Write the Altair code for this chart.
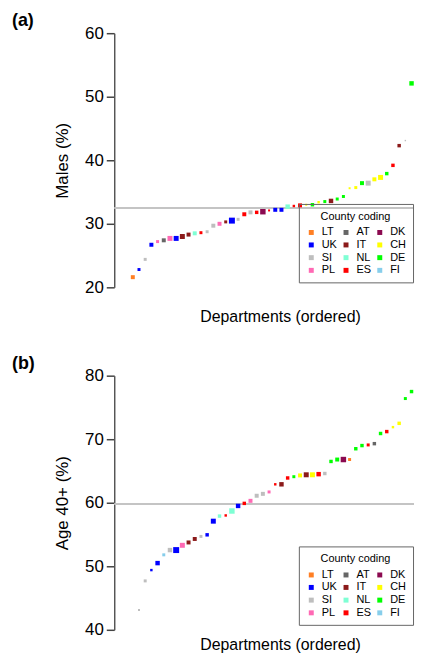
import altair as alt
import pandas as pd

F = "Liberation Sans"

# legend order (filled column by column: LT UK SI PL | AT IT NL ES | DK CH DE FI)
countries = ["LT", "UK", "SI", "PL", "AT", "IT", "NL", "ES", "DK", "CH", "DE", "FI"]
colors = ["#FF7F24", "#0000FF", "#BEBEBE", "#FF69B4", "#666666", "#8B1A1A",
          "#7FFFD4", "#FF0000", "#8B0A50", "#FFFF00", "#00FF00", "#87CEEB"]

# Panel (a): share of males per department (ordered)
males_rank = list(range(1, 47))
males_pct = [21.6, 22.8, 24.4, 26.7, 27.2, 27.4, 27.7, 27.7, 28.0, 28.3,
             28.5, 28.6, 28.75, 29.7, 30.0, 30.3, 30.5, 30.7, 31.5, 31.8,
             31.8, 31.9, 32.1, 32.2, 32.2, 32.7, 32.8, 32.9, 33.0, 33.0,
             33.4, 33.5, 33.6, 33.9, 34.3, 35.6, 35.7, 36.4, 36.4, 37.0,
             37.3, 37.9, 39.2, 42.3, 43.1, 52.1]
males_country = ["LT", "UK", "SI", "UK", "PL", "AT", "PL", "UK", "IT", "IT",
                 "NL", "ES", "SI", "SI", "PL", "IT", "UK", "SI", "ES", "SI",
                 "ES", "DK", "ES", "UK", "UK", "NL", "ES", "ES", "CH", "DE",
                 "CH", "DE", "IT", "DE", "DE", "CH", "CH", "DE", "SI", "CH",
                 "CH", "DE", "ES", "IT", "SI", "DE"]
males_dept = [16, 9, 9, 16, 9, 16, 25, 25, 25, 16,
              16, 9, 9, 16, 16, 9, 36, 9, 16, 16,
              12, 30, 4, 16, 16, 20, 6, 16, 4, 12,
              6, 9, 20, 9, 9, 4, 9, 16, 25, 16,
              25, 12, 12, 12, 2, 20]
males_ref = 32.5

# Panel (b): share aged 40+ per department (ordered)
age_rank = list(range(2, 47))
age_pct = [43.1, 47.7, 49.4, 50.5, 51.8, 52.55, 52.55, 53.3, 53.75, 54.3,
           54.7, 54.95, 57.1, 57.9, 58.0, 58.7, 59.5, 59.9, 60.3, 61.1,
           61.4, 61.7, 62.9, 62.9, 63.9, 64.1, 64.3, 64.4, 64.4, 64.5,
           64.6, 66.5, 66.8, 66.8, 66.8, 68.5, 69.0, 69.1, 69.3, 70.9,
           71.2, 71.9, 72.5, 76.4, 77.5]
age_country = ["SI", "SI", "UK", "UK", "FI", "SI", "UK", "PL", "IT", "IT",
               "SI", "UK", "UK", "NL", "ES", "NL", "UK", "ES", "PL", "SI",
               "SI", "PL", "ES", "IT", "ES", "DE", "CH", "IT", "CH", "ES",
               "SI", "DE", "DE", "DK", "LT", "DE", "DE", "ES", "AT", "DE",
               "ES", "CH", "CH", "DE", "DE"]
age_dept = [4, 9, 6, 20, 9, 20, 36, 25, 16, 16,
            9, 12, 25, 12, 6, 30, 20, 12, 16, 16,
            16, 9, 6, 20, 12, 9, 16, 25, 25, 20,
            12, 12, 16, 30, 9, 12, 12, 9, 12, 12,
            12, 6, 12, 9, 12]
age_ref = 59.8


def make_panel(rank, pct, country, dept, ytitle, ydom, yticks, ref, tag, xpad):
    df = pd.DataFrame({"rank": rank, "pct": pct, "country": country, "dept": dept})
    x = alt.X("rank:Q",
              scale=alt.Scale(domain=[-2, 46.4], nice=False, zero=False),
              axis=alt.Axis(domain=False, ticks=False, labels=False, grid=False,
                            title="Departments (ordered)", titleFontSize=16,
                            titleFontWeight="normal", titlePadding=xpad,
                            titleX=167, titleAlign="center",
                            titleColor="black", titleFont=F))
    y = alt.Y("pct:Q",
              scale=alt.Scale(domain=ydom, nice=False, zero=False),
              axis=alt.Axis(values=yticks, title=ytitle, grid=False,
                            titleFontSize=17, titleFontWeight="normal",
                            titleColor="black", titleFont=F, titlePadding=13,
                            labelFontSize=17, labelColor="black", labelFont=F,
                            labelPadding=3, tickSize=8, tickWidth=1.5,
                            tickColor="#444444", domainColor="#555555",
                            domainWidth=1.5))
    color = alt.Color("country:N",
                      scale=alt.Scale(domain=countries, range=colors),
                      legend=alt.Legend(title="County coding", orient="none",
                                        legendX=186, legendY=172, columns=3,
                                        symbolType="square", symbolSize=25,
                                        symbolStrokeWidth=0, symbolOpacity=1,
                                        labelFontSize=11, labelFont=F,
                                        labelColor="black", labelOffset=5,
                                        titleFontSize=11, titleFont=F,
                                        titleFontWeight="normal",
                                        titleColor="black", titleAnchor="middle",
                                        titlePadding=5, strokeColor="#666666",
                                        padding=7, rowPadding=0.8,
                                        columnPadding=3))
    size = alt.Size("dept:Q", scale=alt.Scale(domain=[0, 36], range=[0, 36]),
                    legend=None)

    rule = alt.Chart(pd.DataFrame({"r": [0]})).mark_rule(
        color="#c4c4c4", strokeWidth=2).encode(y=alt.datum(ref))
    pts = alt.Chart(df).mark_square(opacity=1, filled=True).encode(
        x=x, y=y, color=color, size=size)
    label = alt.Chart(pd.DataFrame({"t": [tag]})).mark_text(
        align="left", baseline="middle", fontSize=18, fontWeight="bold",
        font=F, color="black").encode(
        text="t:N", x=alt.value(-103), y=alt.value(-12))
    return alt.layer(rule, pts, label).properties(width=302, height=256)


panel_a = make_panel(males_rank, males_pct, males_country, males_dept,
                     "Males (%)", [20, 60], [20, 30, 40, 50, 60], males_ref, "(a)", 21)
panel_b = make_panel(age_rank, age_pct, age_country, age_dept,
                     "Age 40+ (%)", [40, 80], [40, 50, 60, 70, 80], age_ref, "(b)", 7)

chart = alt.vconcat(panel_a, panel_b, spacing=29).resolve_scale(
    color="independent", size="independent").resolve_legend(
    color="independent").properties(
    padding={"left": 3, "top": 1, "right": 0, "bottom": 0}).configure_view(
    stroke="transparent")

chart.save("out.html", embed_options={"renderer": "svg", "actions": False})
